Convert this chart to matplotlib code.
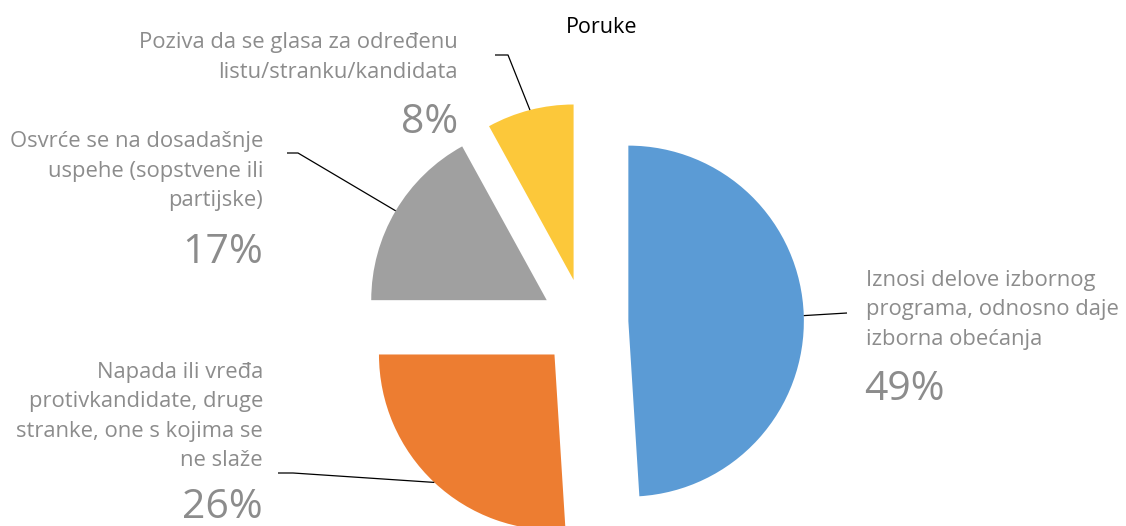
import matplotlib
matplotlib.use("Agg")
import matplotlib.pyplot as plt
import numpy as np

plt.rcParams['font.family'] = ['Open Sans', 'DejaVu Sans']

# ---- data ----
title = "Poruke"
categories = [
    "Iznosi delove izbornog\nprograma, odnosno daje\nizborna obećanja",
    "Napada ili vređa\nprotivkandidate, druge\nstranke, one s kojima se\nne slaže",
    "Osvrće se na dosadašnje\nuspehe (sopstvene ili\npartijske)",
    "Poziva da se glasa za određenu\nlistu/stranku/kandidata",
]
values = [49, 26, 17, 8]
pct_labels = ["49%", "26%", "17%", "8%"]
colors = ["#5B9BD5", "#ED7D31", "#A0A0A0", "#FCC83A"]

# ---- layout (image pixel coords, y down) ----
W, H = 1126, 526
cx_img, cy_img, R = 584.5, 322.5, 175.5
explode_frac = 0.25
# text anchor x, alignment, first baseline y, pct baseline y
label_layout = [
    (866, 'left', 286, 400),
    (263, 'right', 378, 518),
    (263, 'right', 147, 263),
    (458, 'right', 48, 133),
]
line_step = 29.5
# leader elbow and end points (image coords)
leaders = [
    ((847, 313), (847, 313)),
    ((293, 473), (278, 473)),
    ((298, 153), (287, 153)),
    ((508, 55), (495, 55)),
]
text_color = "#8c8c8c"

fig = plt.figure(figsize=(W / 100, H / 100), dpi=100)
ax = fig.add_axes([0, 0, 1, 1])

def Y(y_img):
    return H - y_img

wedges, _ = ax.pie(values, startangle=90, counterclock=False, colors=colors,
                   radius=R, center=(cx_img, Y(cy_img)),
                   explode=[explode_frac * R] * len(values),
                   wedgeprops=dict(linewidth=0))
ax.set_xlim(0, W)
ax.set_ylim(0, H)
ax.set_aspect('auto')
ax.axis('off')

for i, w in enumerate(wedges):
    mid = np.deg2rad((w.theta1 + w.theta2) / 2)
    px = w.center[0] + w.r * np.cos(mid)
    py = w.center[1] + w.r * np.sin(mid)
    (ex, ey), (tx, ty) = leaders[i]
    ax.plot([px, ex, tx], [py, Y(ey), Y(ty)], color='black', lw=0.9,
            solid_capstyle='butt', zorder=3)

    x, ha, b0, pb = label_layout[i]
    for j, line in enumerate(categories[i].split("\n")):
        ax.text(x, Y(b0 + j * line_step), line, ha=ha, va='baseline',
                fontsize=15.8, color=text_color)
    ax.text(x - (0 if ha == 'right' else 2), Y(pb), pct_labels[i], ha=ha,
            va='baseline', fontsize=29.5, color=text_color)

ax.text(602, Y(33), title, ha='center', va='baseline', fontsize=15.5,
        color='black')

fig.savefig("out.png", dpi=100)
